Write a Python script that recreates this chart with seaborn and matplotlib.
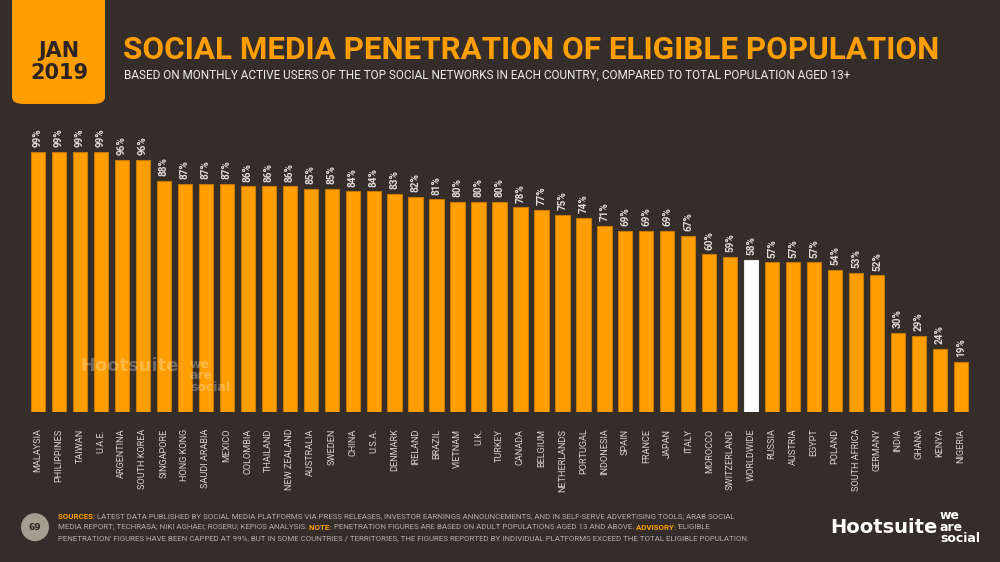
import matplotlib
matplotlib.use("Agg")
import matplotlib.pyplot as plt
import seaborn as sns
import pandas as pd
from matplotlib.patches import FancyBboxPatch, Ellipse

countries = ["MALAYSIA", "PHILIPPINES", "TAIWAN", "U.A.E.", "ARGENTINA", "SOUTH KOREA",
             "SINGAPORE", "HONG KONG", "SAUDI ARABIA", "MEXICO", "COLOMBIA", "THAILAND",
             "NEW ZEALAND", "AUSTRALIA", "SWEDEN", "CHINA", "U.S.A.", "DENMARK", "IRELAND",
             "BRAZIL", "VIETNAM", "U.K.", "TURKEY", "CANADA", "BELGIUM", "NETHERLANDS",
             "PORTUGAL", "INDONESIA", "SPAIN", "FRANCE", "JAPAN", "ITALY", "MOROCCO",
             "SWITZERLAND", "WORLDWIDE", "RUSSIA", "AUSTRIA", "EGYPT", "POLAND",
             "SOUTH AFRICA", "GERMANY", "INDIA", "GHANA", "KENYA", "NIGERIA"]
values = [99, 99, 99, 99, 96, 96, 88, 87, 87, 87, 86, 86, 86, 85, 85, 84, 84, 83, 82,
          81, 80, 80, 80, 78, 77, 75, 74, 71, 69, 69, 69, 67, 60, 59, 58, 57, 57, 57, 54,
          53, 52, 30, 29, 24, 19]
highlight = "WORLDWIDE"

BG = "#342d29"
ORANGE = "#ff9e00"
EDGE = "#c77800"
LIGHT = "#d9d4cf"
NARROW = ["Liberation Sans Narrow", "Roboto", "DejaVu Sans"]

sns.set_theme(style="white")
plt.rcParams["font.family"] = ["DejaVu Sans"]

fig = plt.figure(figsize=(10, 5.62), dpi=100, facecolor=BG)
ax = fig.add_axes([0.0275, 0.267, 0.944, 0.467])
ax.set_facecolor(BG)

df = pd.DataFrame({"country": countries, "value": values})
palette = {c: ("#ffffff" if c == highlight else ORANGE) for c in countries}
sns.barplot(data=df, x="country", y="value", hue="country", palette=palette,
            legend=False, ax=ax, width=0.68, edgecolor=EDGE, linewidth=0.8,
            saturation=1)
for p, c in zip(ax.patches, countries):
    if c == highlight:
        p.set_edgecolor("#e8e8e8")

ax.set_ylim(0, 100)
ax.set_xlim(-0.5, len(countries) - 0.5)
for s in ax.spines.values():
    s.set_visible(False)
ax.set_yticks([])
ax.set_xlabel("")
ax.set_ylabel("")
ax.tick_params(axis="x", length=0, pad=12)
ax.set_xticks(range(len(countries)))
ax.set_xticklabels(countries, rotation=90, fontsize=6.6, color=LIGHT,
                   va="top", ha="center", family=NARROW)

for i, v in enumerate(values):
    ax.text(i, v + 1.8, f"{v}%", rotation=90, ha="center", va="bottom",
            fontsize=7.2, color="#e0dcd8", fontweight="bold", clip_on=False,
            family=NARROW)

# watermark
fig.text(0.08, 0.34, "Hootsuite", fontsize=13, fontweight="bold",
         color="#ffffff", alpha=0.28, zorder=5)
fig.text(0.19, 0.305, "we\nare\nsocial", fontsize=9, fontweight="bold",
         color="#ffffff", alpha=0.28, linespacing=0.85, zorder=5)

# date box
box = FancyBboxPatch((0.012, 0.815), 0.093, 0.24, boxstyle="round,pad=0,rounding_size=0.012",
                     transform=fig.transFigure, facecolor=ORANGE, edgecolor="none")
fig.patches.append(box)
fig.text(0.059, 0.89, "JAN\n2019", ha="center", va="center", fontsize=15,
         fontweight="bold", color="#2b2420", linespacing=1.15)

fig.text(0.123, 0.911, "SOCIAL MEDIA PENETRATION OF ELIGIBLE POPULATION",
         ha="left", va="center", fontsize=22.6, fontweight="bold", color=ORANGE,
         family=NARROW)
fig.text(0.124, 0.866,
         "BASED ON MONTHLY ACTIVE USERS OF THE TOP SOCIAL NETWORKS IN EACH COUNTRY, COMPARED TO TOTAL POPULATION AGED 13+",
         ha="left", va="center", fontsize=8.5, color="#eeeeee", family=NARROW)

# footer
circ = Ellipse((0.035, 0.062), 0.028, 0.028 * 1000 / 562, transform=fig.transFigure,
               facecolor="#a69c8f", edgecolor="none")
fig.patches.append(circ)
fig.text(0.035, 0.062, "69", ha="center", va="center", fontsize=6.5,
         color="#2b2420", fontweight="bold")

footer_lines = [
    [("SOURCES: ", ORANGE, "bold"),
     ("LATEST DATA PUBLISHED BY SOCIAL MEDIA PLATFORMS VIA PRESS RELEASES, INVESTOR EARNINGS ANNOUNCEMENTS, AND IN SELF-SERVE ADVERTISING TOOLS; ARAB SOCIAL", "#b5ada5", "normal")],
    [("MEDIA REPORT; TECHRASA; NIKI AGHAEI; ROSERU; KEPIOS ANALYSIS. ", "#b5ada5", "normal"),
     ("NOTE: ", ORANGE, "bold"),
     ("PENETRATION FIGURES ARE BASED ON ADULT POPULATIONS AGED 13 AND ABOVE. ", "#b5ada5", "normal"),
     ("ADVISORY: ", ORANGE, "bold"),
     ("'ELIGIBLE", "#b5ada5", "normal")],
    [("PENETRATION' FIGURES HAVE BEEN CAPPED AT 99%, BUT IN SOME COUNTRIES / TERRITORIES, THE FIGURES REPORTED BY INDIVIDUAL PLATFORMS EXCEED THE TOTAL ELIGIBLE POPULATION.", "#b5ada5", "normal")],
]
fig.canvas.draw()
renderer = fig.canvas.get_renderer()
ys = [0.081, 0.062, 0.043]
for line, y in zip(footer_lines, ys):
    x = 0.058
    for txt, col, wt in line:
        t = fig.text(x, y, txt, ha="left", va="center", fontsize=5.7, color=col,
                     fontweight=wt, family=NARROW)
        bb = t.get_window_extent(renderer=renderer)
        x += bb.width / fig.bbox.width

fig.text(0.83, 0.062, "Hootsuite", ha="left", va="center", fontsize=14,
         fontweight="bold", color="#ffffff")
fig.text(0.940, 0.062, "we\nare\nsocial", ha="left", va="center", fontsize=9,
         fontweight="bold", color="#ffffff", linespacing=0.85)

fig.savefig("out.png", dpi=100, facecolor=BG)
